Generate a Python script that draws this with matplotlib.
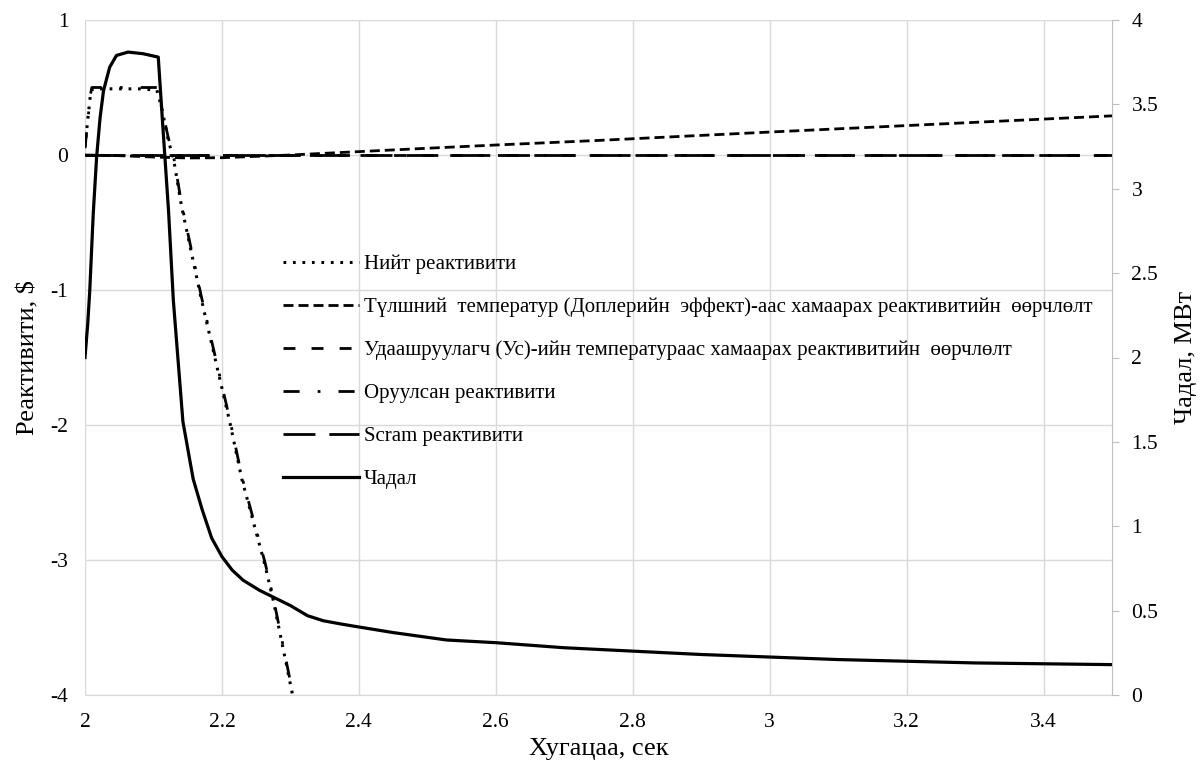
import matplotlib
matplotlib.use("Agg")
import matplotlib.pyplot as plt

plt.rcParams['font.family'] = ['Liberation Serif', 'DejaVu Serif']
plt.rcParams['axes.unicode_minus'] = False

# Чадал (power), MW
t_chadal = [2.000, 2.004, 2.007, 2.012, 2.017, 2.022, 2.027, 2.036, 2.046, 2.063,
            2.085, 2.107, 2.114, 2.122, 2.129, 2.143, 2.158, 2.171, 2.185, 2.200,
            2.215, 2.231, 2.255, 2.275, 2.300, 2.325, 2.348, 2.375, 2.397, 2.450,
            2.528, 2.600, 2.700, 2.800, 2.900, 3.000, 3.100, 3.200, 3.300, 3.400, 3.500]
chadal = [2.00, 2.20, 2.40, 2.85, 3.19, 3.42, 3.58, 3.72, 3.79, 3.81,
          3.80, 3.78, 3.35, 2.87, 2.34, 1.62, 1.28, 1.10, 0.93, 0.82,
          0.74, 0.68, 0.62, 0.58, 0.53, 0.47, 0.44, 0.42, 0.405, 0.37,
          0.326, 0.31, 0.28, 0.26, 0.24, 0.225, 0.21, 0.20, 0.19, 0.185, 0.18]

# Оруулсан реактивити (inserted), $
t_oruulsan = [2.000, 2.004, 2.008, 2.010, 2.105, 2.112, 2.122, 2.129, 2.141, 2.170,
              2.212, 2.229, 2.263, 2.275, 2.304, 2.320]
oruulsan = [0.05, 0.25, 0.45, 0.50, 0.50, 0.35, 0.12, 0.00, -0.36, -1.05,
            -1.97, -2.38, -3.02, -3.28, -4.00, -4.40]

# Нийт реактивити (net), $
t_niit = [2.000, 2.004, 2.008, 2.011, 2.050, 2.080, 2.105, 2.112, 2.122, 2.129,
          2.141, 2.170, 2.212, 2.229, 2.263, 2.275, 2.304, 2.320]
niit = [0.06, 0.26, 0.45, 0.49, 0.49, 0.49, 0.48, 0.35, 0.10, -0.02,
        -0.38, -1.07, -1.99, -2.40, -3.04, -3.30, -4.02, -4.42]

# Түлшний температур (Доплер), $
t_doppler = [2.00, 2.05, 2.10, 2.15, 2.20, 2.25, 2.30, 2.40, 2.50, 2.60, 2.75,
             3.00, 3.25, 3.50]
doppler = [0.0, -0.005, -0.015, -0.022, -0.02, -0.01, 0.0, 0.025, 0.05, 0.074,
           0.108, 0.17, 0.23, 0.29]

# Удаашруулагч (Ус), $
t_us = [2.0, 2.5, 3.0, 3.5]
us = [0.0, 0.0, 0.0, 0.0]

# Scram реактивити, $
t_scram = [2.0, 2.5, 3.0, 3.5]
scram = [0.0, 0.0, 0.0, 0.0]

lbl_niit = "Нийт реактивити"
lbl_doppler = "Түлшний  температур (Доплерийн  эффект)-аас хамаарах реактивитийн  өөрчлөлт"
lbl_us = "Удаашруулагч (Ус)-ийн температураас хамаарах реактивитийн  өөрчлөлт"
lbl_oruulsan = "Оруулсан реактивити"
lbl_scram = "Scram реактивити"
lbl_chadal = "Чадал"

fig = plt.figure(figsize=(12, 7.71), dpi=100)
ax = fig.add_axes([85/1200, 76/771, 1027/1200, 675/771])
ax2 = ax.twinx()

grid_c = '#d9d9d9'
lw = 2.0

l_scram, = ax.plot(t_scram, scram, color='black', lw=lw, linestyle=(0, (11.5, 5)), label=lbl_scram)
l_us, = ax.plot(t_us, us, color='black', lw=lw, linestyle=(0, (4.3, 5.8)), label=lbl_us)
l_dop, = ax.plot(t_doppler, doppler, color='black', lw=lw, linestyle=(0, (3.6, 1.8)), label=lbl_doppler)
l_or, = ax.plot(t_oruulsan, oruulsan, color='black', lw=lw, linestyle=(0, (5.8, 6.5, 1, 6.5)), label=lbl_oruulsan)
l_niit, = ax.plot(t_niit, niit, color='black', lw=2.2, linestyle=(0, (0.9, 2.2)), label=lbl_niit)
l_ch, = ax2.plot(t_chadal, chadal, color='black', lw=2.3, label=lbl_chadal)

ax.set_xlim(2, 3.5)
ax.set_ylim(-4, 1)
ax2.set_ylim(0, 4)
ax.set_xticks([2, 2.2, 2.4, 2.6, 2.8, 3, 3.2, 3.4])
ax.set_xticklabels(['2', '2.2', '2.4', '2.6', '2.8', '3', '3.2', '3.4'])
ax.set_yticks([-4, -3, -2, -1, 0, 1])
ax2.set_yticks([0, 0.5, 1, 1.5, 2, 2.5, 3, 3.5, 4])
ax2.set_yticklabels(['0', '0.5', '1', '1.5', '2', '2.5', '3', '3.5', '4'])

ax.grid(True, color=grid_c, lw=1)
ax.set_axisbelow(True)
for s in ['top', 'left', 'right']:
    ax.spines[s].set_visible(False)
for s in ['top', 'left', 'bottom']:
    ax2.spines[s].set_visible(False)
ax.spines['bottom'].set_color(grid_c)
ax2.spines['right'].set_color('#bfbfbf')

ax.tick_params(axis='x', length=0, pad=13, labelsize=15.5)
ax.tick_params(axis='y', length=0, pad=12, labelsize=15.5)
ax2.tick_params(axis='y', length=5, color='#bfbfbf', pad=9, labelsize=15.5)

ax.set_xlabel("Хугацаа, сек", fontsize=19, labelpad=4)
ax.set_ylabel("Реактивити, $", fontsize=19, labelpad=8)
ax2.set_ylabel("Чадал, МВт", fontsize=19, labelpad=12)

handles = [l_niit, l_dop, l_us, l_or, l_scram, l_ch]
ax2.legend(handles=handles, labels=[h.get_label() for h in handles],
           loc='upper left', bbox_to_anchor=(264/1200, 1 - 236/771),
           bbox_transform=fig.transFigure, frameon=False, fontsize=15,
           handlelength=3.65, handletextpad=0.25, labelspacing=1.12)

fig.savefig("out.png", dpi=100)
